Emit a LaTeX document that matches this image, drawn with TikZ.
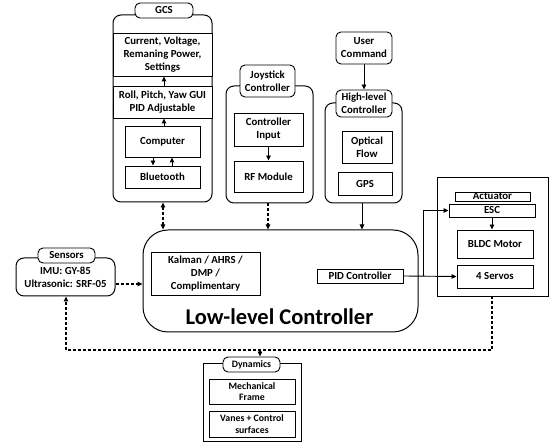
\documentclass[tikz,border=0pt]{standalone}
\usepackage{fontspec}
\setmainfont{Carlito}
\usetikzlibrary{arrows.meta,calc}
\begin{document}
\begin{tikzpicture}[x=1pt,y=-1pt,
  every node/.style={font=\bfseries\fontsize{10.8}{13}\selectfont, align=center, inner sep=0pt},
  box/.style={draw, line width=0.9pt, fill=white},
  rbox/.style={draw, line width=1pt, rounded corners=8pt, fill=white},
  tabbox/.style={draw, line width=0.9pt, rounded corners=5pt, fill=white, font=\bfseries\fontsize{10.8}{13}\selectfont},
  arr/.style={line width=0.9pt, -{Triangle[length=5pt,width=4.5pt]}},
  darr/.style={line width=1.1pt, dash pattern=on 3pt off 2pt, -{Triangle[length=5pt,width=4.5pt]}},
  dline/.style={line width=1.1pt, dash pattern=on 3pt off 2pt},
  small/.style={font=\bfseries\fontsize{9.8}{11.5}\selectfont}]
\useasboundingbox (0,0) rectangle (550,443);

% GCS
\node[rbox, minimum width=99pt, minimum height=187pt] (gcs) at (162.5,108.5) {};
\node[tabbox, minimum width=58pt, minimum height=15pt] (gcst) at (164,10.5) {GCS};
\node[box, minimum width=99pt, minimum height=43pt] (cur) at (162.5,54.5) {Current, Voltage,\\Remaning Power,\\Settings};
\node[box, minimum width=99pt, minimum height=32pt] (roll) at (162.5,102) {Roll, Pitch, Yaw GUI\\PID Adjustable};
\node[box, minimum width=75pt, minimum height=31pt] (comp) at (162.5,141.5) {Computer};
\node[box, minimum width=75pt, minimum height=22pt] (bt) at (162.5,177) {Bluetooth};
\draw[arr] (roll.north -| 164,0) -- (cur.south -| 164,0);
\draw[arr] (comp.north -| 164,0) -- (roll.south -| 164,0);
\draw[arr] (comp.south -| 153,0) -- (bt.north -| 153,0);
\draw[arr] (bt.north -| 172,0) -- (comp.south -| 172,0);

% Joystick
\node[rbox, minimum width=87pt, minimum height=117pt] (joy) at (269.5,144.5) {};
\node[tabbox, minimum width=55pt, minimum height=32pt] (joyt) at (267.5,81) {Joystick\\Controller};
\node[box, minimum width=69pt, minimum height=33pt] (ci) at (268.5,129.5) {Controller\\Input};
\node[box, minimum width=69pt, minimum height=31pt] (rf) at (268.5,176.5) {RF Module};
\draw[arr] (ci.south) -- (rf.north);

% High-level
\node[tabbox, minimum width=56pt, minimum height=32pt] (uc) at (364,48) {User\\Command};
\node[rbox, minimum width=77pt, minimum height=100pt] (hl) at (363.5,153) {};
\node[tabbox, minimum width=56pt, minimum height=27pt] (hlt) at (364,103.5) {High-level\\Controller};
\node[box, minimum width=50pt, minimum height=32pt] (of) at (367,147) {Optical\\Flow};
\node[box, minimum width=54pt, minimum height=23pt] (gps) at (365,183.5) {GPS};
\draw[arr] (uc.south) -- (hlt.north);

% Low-level controller
\node[draw, line width=1pt, rounded corners=25pt, minimum width=275pt, minimum height=102pt] (llc) at (280.5,281) {};
\node[font=\bfseries\fontsize{22.5}{26}\selectfont] (llcl) at (279.5,317) {Low-level Controller};
\node[box, minimum width=109pt, minimum height=43pt] (kal) at (205.5,273.5) {Kalman / AHRS /\\DMP /\\Complimentary};
\node[box, minimum width=86pt, minimum height=14pt] (pid) at (360,276) {PID Controller};

% Sensors
\node[rbox, minimum width=99pt, minimum height=38pt] (sen) at (65.5,277) {};
\node[tabbox, minimum width=57pt, minimum height=15pt] (sent) at (66.5,255.5) {Sensors};
\node[font=\bfseries\fontsize{10.8}{13.5}\selectfont] (sentx) at (65.5,277.5) {IMU: GY-85\\Ultrasonic: SRF-05};

% Actuator
\node[box, minimum width=111pt, minimum height=119pt] (act) at (492.5,236.5) {};
\node[box, minimum width=75pt, minimum height=9pt] (actl) at (492.5,196.5) {Actuator};
\node[box, minimum width=86pt, minimum height=13pt] (esc) at (492,210.5) {ESC};
\node[box, minimum width=76pt, minimum height=28pt] (bldc) at (495,244) {BLDC Motor};
\node[box, minimum width=76pt, minimum height=23pt] (serv) at (495,276.5) {4 Servos};
\draw[arr] (esc.south -| 492,0) -- (bldc.north -| 492,0);

% Dynamics
\node[box, minimum width=98pt, minimum height=78pt] (dyn) at (252,402) {};
\node[tabbox, minimum width=57pt, minimum height=15pt, small] (dynt) at (251.5,364.5) {Dynamics};
\node[box, minimum width=86pt, minimum height=25pt, small] (mech) at (252,391.5) {Mechanical\\Frame};
\node[box, minimum width=86pt, minimum height=26pt, small] (van) at (252,424) {Vanes + Control\\surfaces};

% Connectors
\draw[darr, {Triangle[length=5pt,width=4.5pt]}-{Triangle[length=5pt,width=4.5pt]}] (gcs.south -| 163,0) -- (llc.north -| 163,0);
\draw[darr] (joy.south -| 268,0) -- (llc.north -| 268,0);
\draw[arr] (hl.south -| 362,0) -- (llc.north -| 362,0);
\draw[darr] (sen.east |- 0,284) -- (llc.west |- 0,284);
\coordinate (jx) at (423,276);
\draw[arr] (pid.east) -- (serv.west);
\draw[arr] (jx) |- (esc.west);

\coordinate (fb) at (492,350);
\coordinate (fl) at (66,350);
\draw[dline] (act.south -| 492,0) -- (fb) -- (fl);
\draw[darr] (fl) -- (sen.south -| 66,0);
\draw[darr] (260,350) -- (dynt.north -| 260,0);
\end{tikzpicture}
\end{document}
